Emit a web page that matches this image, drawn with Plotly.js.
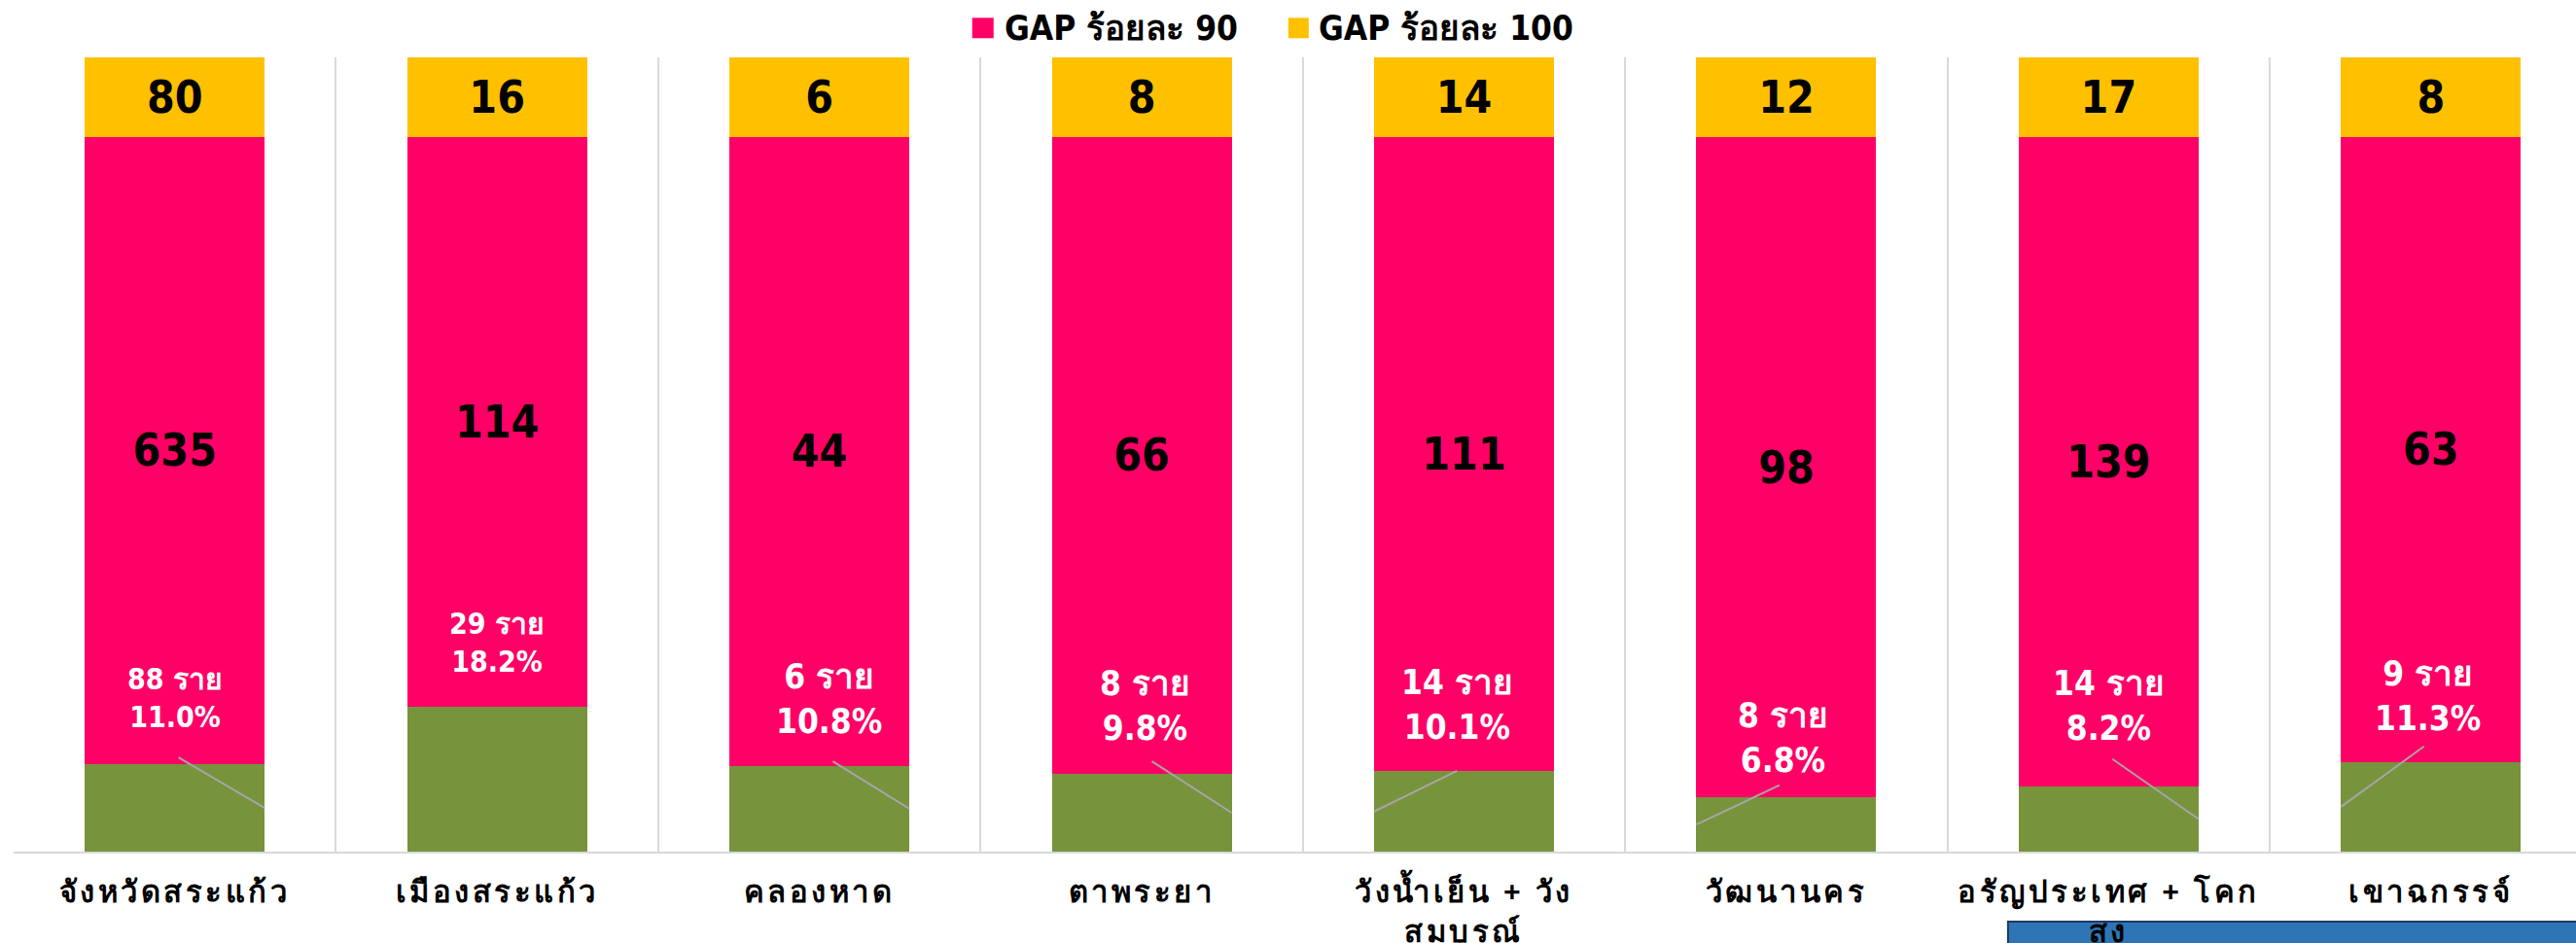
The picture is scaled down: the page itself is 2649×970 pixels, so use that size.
<!DOCTYPE html>
<html>
<head>
<meta charset="utf-8">
<script src="https://cdn.plot.ly/plotly-3.0.1.min.js"></script>
<style>
html,body{margin:0;padding:0;background:#fff;overflow:hidden;}
#chart{width:2649px;height:970px;}
.xtick text{letter-spacing:3.5px;}
</style>
</head>
<body>
<div id="chart"></div>
<script>
// ---- data ----
const categories = ["จังหวัดสระแก้ว","เมืองสระแก้ว","คลองหาด","ตาพระยา","วังน้ำเย็น + วัง<br>สมบูรณ์","วัฒนานคร","อรัญประเทศ + โคก<br>สูง","เขาฉกรรจ์"];
const lowCount = [88, 29, 6, 8, 14, 8, 14, 9];           // ราย (green segment)
const lowPct = [11.0, 18.2, 10.8, 9.8, 10.1, 6.8, 8.2, 11.3]; // % shown
const gap90Count = [635, 114, 44, 66, 111, 98, 139, 63];
const gap100Count = [80, 16, 6, 8, 14, 12, 17, 8];
const gap90Share = [79.0, 71.8, 79.2, 80.2, 79.9, 83.2, 81.8, 78.7];
const gap100Share = [10, 10, 10, 10, 10, 10, 10, 10];
const legendNames = ["GAP ร้อยละ 90", "GAP ร้อยละ 100"];

// ---- styles / label placement ----
const C_GREEN = "#77933C", C_PINK = "#FF0066", C_YEL = "#FFC000";
const numFont = "'Liberation Sans Narrow','DejaVu Sans Condensed','Noto Sans',sans-serif";
const labelYPos = [19.3, 26.3, 19.2, 18.3, 18.5, 14.3, 18.4, 19.6];
const labelDX = [0.0, 0.0, 0.03, 0.01, -0.02, -0.01, 0.0, -0.01];
const leaderSide = [1, 0, 1, 1, -1, -1, 1, -1]; // 0 = no leader line
const leaderStartY = [11.9, 0, 11.4, 11.4, 10.2, 8.4, 11.7, 13.3];
const leaderStartDX = [0.01, 0, 0.04, 0.03, -0.02, -0.02, 0.01, -0.02];
const labelSize = [30, 30, 35, 35, 35, 35, 35, 35];
const halfBar = 0.279;

const idx = categories.map((c, i) => i);

const traces = [
  {type:"bar", x:categories, y:lowPct, marker:{color:C_GREEN}, showlegend:false, hoverinfo:"skip", name:"low"},
  {type:"bar", x:categories, y:gap90Share, marker:{color:C_PINK}, name:legendNames[0], showlegend:false,
   text:gap90Count.map(String), textposition:"inside", insidetextanchor:"middle", constraintext:"none",
   textfont:{size:46, color:"#000", family:numFont, weight:"bold"}, hoverinfo:"skip"},
  {type:"bar", x:categories, y:gap100Share, marker:{color:C_YEL}, name:legendNames[1], showlegend:false,
   text:gap100Count.map(String), textposition:"inside", insidetextanchor:"middle", constraintext:"none",
   textfont:{size:46, color:"#000", family:numFont, weight:"bold"}, hoverinfo:"skip"}
];

const L = 14.4, T = 58.7, W = 2649, H = 970, B = 94;
const plotW = W - L, plotH = H - T - B;
const px2x = p => (p - L) / plotW;
const py2y = p => (H - B - p) / plotH;

const annotations = [];
idx.forEach(i => {
  const txt = lowCount[i] + " ราย<br>" + lowPct[i].toFixed(1) + "%";
  const f = {size:labelSize[i], color:"#fff", family:numFont, weight:"bold"};
  annotations.push({x:i + labelDX[i], y:labelYPos[i], xref:"x", yref:"y", text:txt, showarrow:false, font:f});
  if (leaderSide[i] !== 0) {
    annotations.push({x:i + leaderSide[i]*halfBar, y:lowPct[i]/2, xref:"x", yref:"y",
      ax:i + leaderStartDX[i], ay:leaderStartY[i], axref:"x", ayref:"y", text:" ", font:{size:1},
      borderpad:0, showarrow:true, arrowhead:0, arrowwidth:2, arrowcolor:"#A6A6A6"});
  }
});
// custom legend
annotations.push({xref:"paper", yref:"paper", x:px2x(1031), y:py2y(29), xanchor:"left", yanchor:"middle",
  text:legendNames[0], showarrow:false, font:{size:35, color:"#000", family:numFont, weight:"bold"}});
annotations.push({xref:"paper", yref:"paper", x:px2x(1354), y:py2y(29), xanchor:"left", yanchor:"middle",
  text:legendNames[1], showarrow:false, font:{size:35, color:"#000", family:numFont, weight:"bold"}});

const shapes = [
  {type:"rect", xref:"paper", yref:"paper", x0:px2x(1000), x1:px2x(1022), y0:py2y(18), y1:py2y(39), fillcolor:C_PINK, line:{width:0}},
  {type:"rect", xref:"paper", yref:"paper", x0:px2x(1325), x1:px2x(1346), y0:py2y(18), y1:py2y(39), fillcolor:C_YEL, line:{width:0}},
  {type:"rect", xref:"paper", yref:"paper", x0:px2x(2065), x1:px2x(2660), y0:py2y(948), y1:py2y(980), fillcolor:"#2E75B6", line:{width:2, color:"#1F3864"}, layer:"below"}
];

const layout = {
  width:W, height:H, margin:{l:L, r:0, t:T, b:B, pad:0},
  paper_bgcolor:"#fff", plot_bgcolor:"#fff",
  barmode:"stack", bargap:0.442,
  showlegend:false,
  xaxis:{type:"category", range:[-0.5, 7.45], tickson:"boundaries", showgrid:true, gridcolor:"#D9D9D9", gridwidth:2,
         showline:true, linecolor:"#D9D9D9", linewidth:2, ticks:"", zeroline:false, fixedrange:true,
         tickfont:{size:31, color:"#000", family:"'Noto Sans',sans-serif", weight:"bold"}, ticklabelstandoff:13},
  yaxis:{range:[0,100], showgrid:false, showticklabels:false, zeroline:false, showline:false, fixedrange:true},
  annotations:annotations, shapes:shapes
};

Plotly.newPlot("chart", traces, layout, {displayModeBar:false, staticPlot:true});
</script>
</body>
</html>
